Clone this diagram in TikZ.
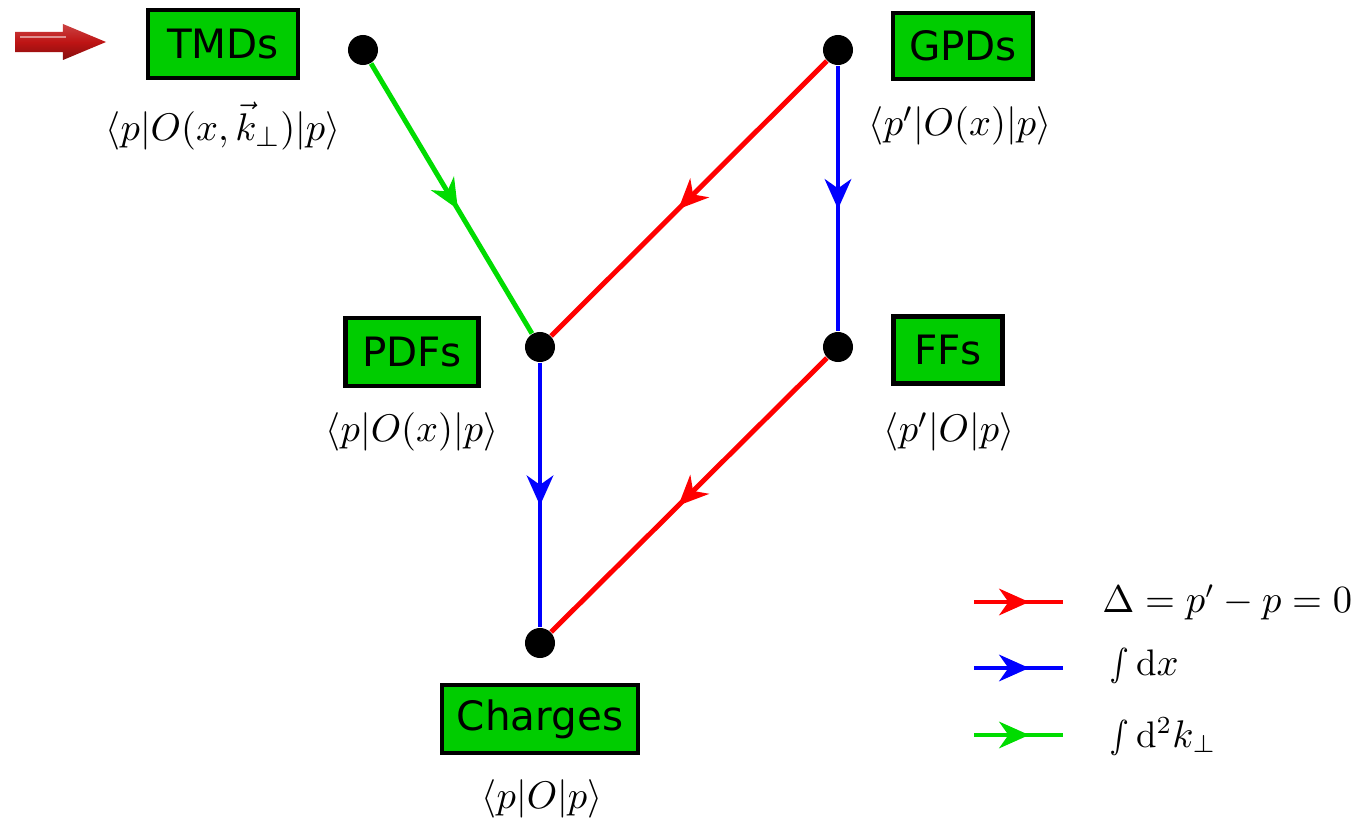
\documentclass[tikz,border=0pt]{standalone}
\usepackage{amsmath,amssymb}
\usepackage{fontspec}
\newfontfamily\boxfont{DejaVu Sans}
\usepackage{tikz}
\usetikzlibrary{arrows.meta, decorations.markings, positioning}

\definecolor{boxgreen}{RGB}{0,204,0}
\definecolor{linegreen}{RGB}{0,220,0}
\definecolor{arrowred}{RGB}{190,20,20}

\begin{document}
\begin{tikzpicture}[x=0.01cm, y=-0.01cm,
        tag/.style={draw, line width=1.2pt, fill=boxgreen, inner sep=0pt, font=\boxfont\fontsize{11.5}{13}\selectfont},
        dot/.style={circle, fill=black, minimum size=0.3cm, inner sep=0pt},
        formula/.style={font=\fontsize{11}{13}\selectfont},
        flow/.style={line width=1.4pt, postaction={decorate}, decoration={markings, mark=at position #1 with {\arrow{Stealth[length=8.5pt, width=7.5pt, inset=2.6pt]}}}},
        flow/.default=0.54
    ]
    \useasboundingbox (0,0) rectangle (1356,821);

    % the boxes
    \node[tag, minimum width=1.5cm, minimum height=0.68cm] (tmds) at (223,44) {TMDs};
    \node[tag, minimum width=1.4cm, minimum height=0.66cm] (gpds) at (963,46) {GPDs};
    \node[tag, minimum width=1.33cm, minimum height=0.68cm] (pdfs) at (412,352) {PDFs};
    \node[tag, minimum width=1.09cm, minimum height=0.67cm] (ffs) at (948,350) {FFs};
    \node[tag, minimum width=1.96cm, minimum height=0.68cm] (charges) at (540,719) {Charges};

    \node[formula] (tmdsme) at (223,126) {$\langle p|O(x,\vec{k}_\perp)|p\rangle$};
    \node[formula] (gpdsme) at (960,126) {$\langle p'|O(x)|p\rangle$};
    \node[formula] (pdfsme) at (412,432) {$\langle p|O(x)|p\rangle$};
    \node[formula] (ffsme) at (949,432) {$\langle p'|O|p\rangle$};
    \node[formula] (chargesme) at (542,799) {$\langle p|O|p\rangle$};

    % the points
    \node[dot] (tmd) at (363,50) {};
    \node[dot] (gpd) at (838,50) {};
    \node[dot] (pdf) at (540,347) {};
    \node[dot] (ff) at (838,347) {};
    \node[dot] (charge) at (540,643) {};

    \draw[flow, linegreen] (tmd) -- (pdf);
    \draw[flow, red] (gpd) -- (pdf);
    \draw[flow, blue] (gpd) -- (ff);
    \draw[flow, blue] (pdf) -- (charge);
    \draw[flow, red] (ff) -- (charge);

    % legend
    \coordinate (dela) at (974,602);
    \coordinate (delb) at (1063,602);
    \coordinate (dxa) at (974,668);
    \coordinate (dxb) at (1063,668);
    \coordinate (dka) at (974,735);
    \coordinate (dkb) at (1063,735);
    \draw[flow=0.62, red] (dela) -- (delb);
    \draw[flow=0.62, blue] (dxa) -- (dxb);
    \draw[flow=0.62, linegreen] (dka) -- (dkb);
    \node[formula, anchor=west, font=\fontsize{10.5}{12}\selectfont] (deltxt) at (1090,602) {$\Delta = p' - p = 0$};
    \node[formula, anchor=west, font=\fontsize{10.5}{12}\selectfont] (dxtxt) at (1097,666) {$\smallint\mathrm{d}x$};
    \node[formula, anchor=west, font=\fontsize{10.5}{12}\selectfont] (dktxt) at (1097,736) {$\smallint\mathrm{d}^2k_\perp$};

    % pointer
    \shade[top color=arrowred!80!white, bottom color=arrowred!70!black, middle color=arrowred]
        (15,32) -- (63,32) -- (63,24) -- (106,42) -- (63,60) -- (63,52) -- (15,52) -- cycle;
    \draw[white, opacity=0.5, line width=0.8pt] (20,37) -- (66,37);
\end{tikzpicture}
\end{document}
